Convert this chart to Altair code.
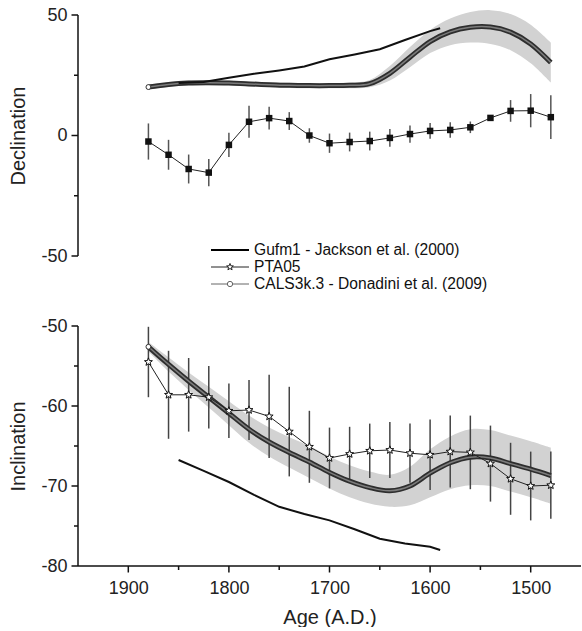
import math
import altair as alt
import pandas as pd

FONT = "Liberation Sans"

# ---------------- data ----------------
pta_years = [1880, 1860, 1840, 1820, 1800, 1780, 1760, 1740, 1720, 1700, 1680,
             1660, 1640, 1620, 1600, 1580, 1560, 1540, 1520, 1500, 1480]
pta_dec = [-2.5, -8.0, -13.9, -15.4, -3.9, 5.7, 7.2, 6.0, 0.0, -3.2, -2.7,
           -2.3, -1.0, 0.6, 1.9, 2.3, 3.4, 7.3, 10.2, 10.3, 7.6]
pta_dec_err = [7.5, 6.2, 6.0, 5.7, 5.0, 6.6, 4.7, 3.7, 3.0, 4.0, 3.9,
               3.9, 3.7, 3.6, 3.3, 3.2, 2.4, 1.0, 4.5, 6.9, 9.1]
pta_inc = [-54.5, -58.6, -58.6, -58.9, -60.6, -60.5, -61.3, -63.2, -65.1, -66.5, -66.0,
           -65.6, -65.5, -65.9, -66.1, -65.7, -65.8, -67.2, -69.1, -70.0, -69.9]
pta_inc_err = [4.4, 5.5, 4.6, 3.9, 3.4, 3.75, 5.2, 5.6, 4.5, 3.8, 3.4,
               3.4, 3.5, 3.7, 4.4, 4.5, 4.6, 4.75, 4.5, 4.3, 4.2]

cals_years = pta_years
cals_dec = [20.1, 21.2, 21.8, 21.9, 21.8, 21.4, 21.1, 20.8, 20.7, 20.7, 20.8,
            21.5, 25.8, 32.5, 39.0, 43.0, 44.9, 45.0, 42.9, 38.0, 30.3]
cals_dec_err = [1.0, 1.0, 1.0, 1.0, 1.0, 1.0, 1.0, 1.1, 1.1, 1.1, 1.2,
                1.5, 3.0, 4.2, 4.8, 5.5, 6.3, 7.0, 7.5, 8.0, 8.3]
cals_inc = [-52.6, -54.8, -56.9, -58.9, -60.9, -62.9, -64.5, -65.8, -67.0, -68.3, -69.4,
            -70.2, -70.6, -70.0, -68.4, -67.1, -66.4, -66.5, -67.2, -67.9, -68.7]
cals_inc_err = [0.6, 0.9, 1.1, 1.3, 1.5, 1.7, 1.8, 1.9, 2.0, 2.0, 2.0,
                2.0, 2.0, 2.4, 3.0, 3.3, 3.5, 3.5, 3.5, 3.5, 3.5]

gufm_years = [1850, 1825, 1800, 1775, 1750, 1725, 1700, 1675, 1650, 1625, 1600, 1590]
gufm_dec = [21.8, 22.2, 24.0, 25.6, 27.0, 28.6, 31.6, 33.6, 35.8, 39.6, 43.3, 44.5]
gufm_inc = [-66.75, -68.1, -69.5, -71.1, -72.6, -73.5, -74.3, -75.4, -76.6, -77.2, -77.6, -78.0]

series_names = ["Gufm1 - Jackson et al. (2000)", "PTA05", "CALS3k.3 - Donadini et al. (2009)"]

x_major = [1900, 1800, 1700, 1600, 1500]
x_minor = [1850, 1750, 1650, 1550]
dec_major = [-50, 0, 50]
dec_minor = [-25, 25]
inc_major = [-80, -70, -60, -50]
inc_minor = [-75, -65, -55]

W, H_TOP, H_BOT = 503, 241, 240
AXC = "#111111"

# ---------------- tables ----------------
pta_df = pd.DataFrame({"year": pta_years, "dec": pta_dec, "dec_e": pta_dec_err,
                       "inc": pta_inc, "inc_e": pta_inc_err})
cals_df = pd.DataFrame({"year": cals_years, "dec": cals_dec, "dec_e": cals_dec_err,
                        "inc": cals_inc, "inc_e": cals_inc_err})
gufm_df = pd.DataFrame({"year": gufm_years, "dec": gufm_dec, "inc": gufm_inc})


# ---------------- star symbol (custom SVG path, unit size) ----------------
def star_path(R=1.0, r=0.42):
    pts = []
    for k in range(10):
        a = math.radians(-90 + 36 * k)
        rad = R if k % 2 == 0 else r
        pts.append((rad * math.cos(a), rad * math.sin(a)))
    return "M" + "L".join(f"{x:.3f},{y:.3f}" for x, y in pts) + "Z"


STAR = star_path()

AX_STYLE = dict(domain=False, ticks=False, tickSize=0, grid=False, labelFlush=False,
                labelColor="#222222", labelFont=FONT, labelFontSize=18, titleFont=FONT,
                titleFontSize=20, titleFontWeight="normal", titleColor="#222222")

# ---------------- scales / axes ----------------
xs = alt.Scale(domain=[1450, 1950], reverse=True, nice=False, zero=False)
X_AX = alt.Axis(values=x_major, title="Age (A.D.)", labelExpr="toString(datum.value)",
                labelPadding=13, titlePadding=10, **AX_STYLE)


def y_axis(title, ticks):
    return alt.Axis(values=ticks, title=title, labelExpr="toString(datum.value)",
                    labelPadding=11, titlePadding=12, **AX_STYLE)


def y_frame(ys, yax, major, minor, height):
    """Axis line and ticks for the left axis, placed through the panel's y scale."""
    Yt = alt.Y("t:Q", scale=ys, axis=yax)
    line = alt.Chart(pd.DataFrame({"t": [0]})).mark_rule(color=AXC, strokeWidth=1.5).encode(
        x=alt.value(0), y=alt.value(0), y2=alt.value(height))
    tmaj = alt.Chart(pd.DataFrame({"t": major})).mark_rule(color=AXC, strokeWidth=1.5).encode(
        y=Yt, x=alt.value(-6.5), x2=alt.value(0))
    tmin = alt.Chart(pd.DataFrame({"t": minor})).mark_rule(color=AXC, strokeWidth=1.5).encode(
        y=Yt, x=alt.value(-4), x2=alt.value(0))
    return [line, tmaj, tmin]


def x_frame(xax, height):
    Xt = alt.X("t:Q", scale=xs, axis=xax)
    line = alt.Chart(pd.DataFrame({"t": [0]})).mark_rule(color=AXC, strokeWidth=1.5).encode(
        x=alt.value(0), x2=alt.value(W), y=alt.value(height))
    tmaj = alt.Chart(pd.DataFrame({"t": x_major})).mark_rule(color=AXC, strokeWidth=1.5).encode(
        x=Xt, y=alt.value(height), y2=alt.value(height + 6.5))
    tmin = alt.Chart(pd.DataFrame({"t": x_minor})).mark_rule(color=AXC, strokeWidth=1.5).encode(
        x=Xt, y=alt.value(height), y2=alt.value(height + 4))
    return [line, tmaj, tmin]


def legend_layers():
    # legend drawn in pixel space of the top panel (style, not data)
    lx0, lx1, ty = 133, 171, 176
    rows_y = [235, 252, 269]
    styles = [
        dict(color="#000000", width=2.2, marker=None),
        dict(color="#222222", width=1.0, marker="star"),
        dict(color="#666666", width=1.0, marker="circle"),
    ]
    out = []
    for name, yy, st in zip(series_names, rows_y, styles):
        d = pd.DataFrame({"name": [name]})
        out.append(alt.Chart(d).mark_rule(color=st["color"], strokeWidth=st["width"]).encode(
            x=alt.value(lx0), x2=alt.value(lx1), y=alt.value(yy)))
        if st["marker"]:
            shp = STAR if st["marker"] == "star" else "circle"
            out.append(alt.Chart(d).mark_point(shape=shp, filled=True, fill="white",
                                               stroke=st["color"], strokeWidth=1,
                                               size=50 if st["marker"] == "star" else 28,
                                               opacity=1).encode(
                x=alt.value((lx0 + lx1) / 2), y=alt.value(yy)))
        out.append(alt.Chart(d).mark_text(align="left", baseline="middle", font=FONT,
                                          fontSize=15.6, color="#111111").encode(
            x=alt.value(ty), y=alt.value(yy), text="name:N"))
    return out


def panel(var, ys, yax, xax, marker, legend, height, major, minor):
    X = alt.X("year:Q", scale=xs, axis=xax)
    Y = lambda f: alt.Y(f, scale=ys, axis=yax)

    shade = alt.Chart(cals_df).transform_calculate(
        lo=f"datum.{var} - datum.{var}_e", hi=f"datum.{var} + datum.{var}_e"
    ).mark_area(color="#d2d2d2", opacity=1, interpolate="cardinal").encode(
        x=X, y=Y("lo:Q"), y2="hi:Q")

    err_color = "#555555" if var == "dec" else "#444444"
    errs = alt.Chart(pta_df).transform_calculate(
        lo=f"datum.{var} - datum.{var}_e", hi=f"datum.{var} + datum.{var}_e"
    ).mark_rule(color=err_color, strokeWidth=1.5).encode(x=X, y=Y("lo:Q"), y2="hi:Q")

    cals_outer = alt.Chart(cals_df).mark_line(color="#2e2e2e", strokeWidth=5,
                                              interpolate="cardinal").encode(
        x=X, y=Y(f"{var}:Q"))
    cals_inner = alt.Chart(cals_df).mark_line(color="#7c7c7c", strokeWidth=1.5,
                                              interpolate="cardinal").encode(
        x=X, y=Y(f"{var}:Q"))
    cals_start = alt.Chart(cals_df).transform_filter(
        alt.datum.year == cals_years[0]
    ).mark_point(shape="circle", filled=True, fill="white", stroke="#333333",
                 strokeWidth=1, size=24, opacity=1).encode(x=X, y=Y(f"{var}:Q"))

    gufm = alt.Chart(gufm_df).mark_line(color="#111111", strokeWidth=2).encode(
        x=X, y=Y(f"{var}:Q"))

    pline = alt.Chart(pta_df).mark_line(color="#222222", strokeWidth=1).encode(
        x=X, y=Y(f"{var}:Q"))
    if marker == "square":
        pts = alt.Chart(pta_df).mark_point(shape="square", filled=True, color="#111111",
                                           size=42, opacity=1).encode(x=X, y=Y(f"{var}:Q"))
    else:
        pts = alt.Chart(pta_df).mark_point(shape=STAR, filled=True, fill="white",
                                           stroke="#111111", strokeWidth=1, size=70,
                                           opacity=1).encode(x=X, y=Y(f"{var}:Q"))

    layers = [shade, errs, cals_outer, cals_inner, cals_start, gufm, pline, pts]
    layers += y_frame(ys, yax, major, minor, height)
    if xax is not None:
        layers += x_frame(xax, height)
    if legend:
        layers += legend_layers()
    return alt.layer(*layers)


ys_dec = alt.Scale(domain=[-50, 50], nice=False, zero=False)
ys_inc = alt.Scale(domain=[-80, -50], nice=False, zero=False)

top = panel("dec", ys_dec, y_axis("Declination", dec_major), None, "square", True,
            H_TOP, dec_major, dec_minor).properties(width=W, height=H_TOP)
bottom = panel("inc", ys_inc, y_axis("Inclination", inc_major), X_AX, "star", False,
               H_BOT, inc_major, inc_minor).properties(width=W, height=H_BOT)

chart = alt.vconcat(top, bottom, spacing=70, bounds="flush").properties(
    padding={"left": 8, "top": 6, "right": 0, "bottom": 0}
).configure_view(stroke=None)

chart.save("out.html", embed_options={"renderer": "svg", "actions": False})
